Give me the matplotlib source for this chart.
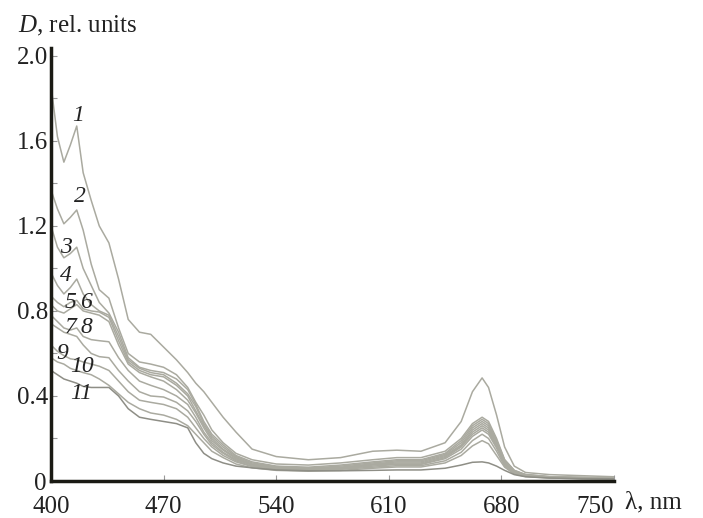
import numpy as np
import matplotlib
matplotlib.use("Agg")
import matplotlib.pyplot as plt
import matplotlib.transforms as mtransforms

plt.rcParams['font.family'] = ['Liberation Serif', 'DejaVu Serif']
plt.rcParams['mathtext.fontset'] = 'custom'
plt.rcParams['mathtext.it'] = 'Liberation Serif:italic'
plt.rcParams['mathtext.rm'] = 'Liberation Serif'

# Длины волн, нм
wl = [400, 404, 408, 412, 416, 420, 425, 430, 436, 442, 448, 455, 462, 470, 478,
      485, 490, 495, 500, 507, 515, 525, 540, 560, 580, 600, 615, 630, 645, 655,
      662, 668, 672, 677, 682, 688, 695, 710, 730, 750]

# Оптическая плотность, отн. ед. (кривые 1-11)
d1 = [1.86, 1.62, 1.50, 1.58, 1.67, 1.45, 1.32, 1.20, 1.12, 0.95, 0.76, 0.70, 0.69, 0.63, 0.57,
      0.51, 0.46, 0.42, 0.37, 0.30, 0.23, 0.15, 0.115, 0.10, 0.11, 0.14, 0.145, 0.14, 0.18, 0.28,
      0.42, 0.485, 0.44, 0.31, 0.16, 0.07, 0.04, 0.03, 0.025, 0.02]
d2 = [1.37, 1.28, 1.21, 1.24, 1.275, 1.18, 1.02, 0.90, 0.86, 0.72, 0.60, 0.56, 0.55, 0.535, 0.50,
      0.44, 0.37, 0.31, 0.24, 0.18, 0.13, 0.10, 0.08, 0.075, 0.085, 0.10, 0.11, 0.11, 0.14, 0.20,
      0.27, 0.30, 0.28, 0.20, 0.10, 0.05, 0.03, 0.02, 0.018, 0.015]
d3 = [1.20, 1.10, 1.05, 1.07, 1.10, 1.00, 0.92, 0.84, 0.79, 0.70, 0.58, 0.535, 0.52, 0.51, 0.48,
      0.43, 0.36, 0.28, 0.22, 0.17, 0.12, 0.09, 0.07, 0.065, 0.075, 0.09, 0.10, 0.10, 0.13, 0.19,
      0.26, 0.29, 0.27, 0.19, 0.10, 0.05, 0.03, 0.02, 0.016, 0.014]
d4 = [0.98, 0.92, 0.88, 0.91, 0.95, 0.88, 0.83, 0.80, 0.78, 0.68, 0.57, 0.53, 0.51, 0.50, 0.46,
      0.41, 0.35, 0.27, 0.21, 0.16, 0.115, 0.085, 0.068, 0.06, 0.07, 0.085, 0.095, 0.095, 0.125, 0.18,
      0.25, 0.28, 0.26, 0.18, 0.09, 0.045, 0.03, 0.02, 0.015, 0.013]
d5 = [0.87, 0.84, 0.82, 0.84, 0.85, 0.81, 0.80, 0.795, 0.77, 0.66, 0.56, 0.52, 0.50, 0.49, 0.45,
      0.40, 0.33, 0.26, 0.20, 0.15, 0.11, 0.08, 0.065, 0.06, 0.065, 0.08, 0.09, 0.09, 0.12, 0.17,
      0.24, 0.27, 0.25, 0.17, 0.09, 0.045, 0.028, 0.018, 0.014, 0.012]
d6 = [0.83, 0.80, 0.79, 0.81, 0.83, 0.80, 0.79, 0.78, 0.75, 0.64, 0.55, 0.51, 0.49, 0.47, 0.43,
      0.38, 0.32, 0.25, 0.19, 0.145, 0.105, 0.078, 0.062, 0.058, 0.062, 0.078, 0.085, 0.085, 0.115, 0.165,
      0.23, 0.26, 0.24, 0.165, 0.085, 0.042, 0.027, 0.018, 0.014, 0.012]
d7 = [0.78, 0.75, 0.72, 0.71, 0.72, 0.68, 0.665, 0.66, 0.655, 0.58, 0.52, 0.47, 0.45, 0.43, 0.40,
      0.36, 0.30, 0.23, 0.18, 0.135, 0.10, 0.075, 0.06, 0.055, 0.06, 0.075, 0.08, 0.08, 0.11, 0.16,
      0.22, 0.25, 0.23, 0.16, 0.08, 0.04, 0.026, 0.017, 0.013, 0.011]
d8 = [0.74, 0.72, 0.70, 0.69, 0.68, 0.64, 0.60, 0.585, 0.58, 0.52, 0.47, 0.42, 0.40, 0.395, 0.37,
      0.33, 0.28, 0.22, 0.17, 0.13, 0.095, 0.07, 0.058, 0.053, 0.058, 0.07, 0.078, 0.078, 0.105, 0.15,
      0.21, 0.24, 0.22, 0.155, 0.078, 0.04, 0.025, 0.016, 0.012, 0.01]
d9 = [0.64, 0.61, 0.59, 0.575, 0.57, 0.56, 0.55, 0.54, 0.52, 0.47, 0.42, 0.38, 0.37, 0.36, 0.34,
      0.30, 0.25, 0.20, 0.16, 0.12, 0.09, 0.068, 0.055, 0.05, 0.055, 0.065, 0.072, 0.072, 0.095, 0.135,
      0.19, 0.22, 0.20, 0.14, 0.07, 0.036, 0.023, 0.015, 0.012, 0.01]
d10 = [0.58, 0.56, 0.55, 0.53, 0.52, 0.51, 0.50, 0.48, 0.45, 0.41, 0.37, 0.34, 0.32, 0.31, 0.29,
       0.26, 0.22, 0.18, 0.14, 0.11, 0.08, 0.062, 0.05, 0.046, 0.05, 0.06, 0.066, 0.066, 0.085, 0.12,
       0.165, 0.19, 0.175, 0.12, 0.065, 0.033, 0.021, 0.014, 0.011, 0.01]
d11 = [0.52, 0.50, 0.48, 0.47, 0.46, 0.445, 0.44, 0.44, 0.44, 0.40, 0.34, 0.30, 0.29, 0.28, 0.27,
       0.25, 0.18, 0.13, 0.105, 0.085, 0.07, 0.062, 0.052, 0.048, 0.048, 0.05, 0.052, 0.052, 0.06, 0.075,
       0.088, 0.09, 0.085, 0.07, 0.05, 0.03, 0.02, 0.014, 0.011, 0.01]

curves = [d1, d2, d3, d4, d5, d6, d7, d8, d9, d10, d11]

# Подписи кривых
names = ['1', '2', '3', '4', '5', '6', '7', '8', '9', '10', '11']
label_x = [417, 418, 409, 409, 412, 422, 412, 422, 407, 419, 419]
label_y = [1.72, 1.34, 1.10, 0.965, 0.84, 0.84, 0.72, 0.72, 0.60, 0.54, 0.41]

fig = plt.figure(figsize=(7.03, 5.18), dpi=100)
ax = fig.add_axes([51 / 703, 37 / 518, 563 / 703, 433 / 518])

for i, d in enumerate(curves):
    col = '#8e8e86' if i == 10 else '#aaaaa0'
    ax.plot(wl, d, color=col, lw=1.1)

for n, x, y in zip(names, label_x, label_y):
    ax.text(x, y, n, fontsize=17, style='italic', ha='center', va='center', color='#222222')

ax.set_xlim(400, 750)
ax.set_ylim(0, 2.037)

ax.set_xticks([400, 470, 540, 610, 680, 750])
ax.set_xticklabels(['400', '470', '540', '610', '680', '750'])
ax.set_yticks([0, 0.4, 0.8, 1.2, 1.6, 2.0])
ax.set_yticklabels(['0', '0.4', '0.8', '1.2', '1.6', '2.0'])
ax.set_yticks(np.arange(0.2, 2.0, 0.4), minor=True)

ax.tick_params(axis='both', which='both', direction='in', length=4, width=0.8,
               color='#999999', labelsize=18, labelcolor='#222222', pad=2)
ax.tick_params(axis='x', pad=11)
ax.get_xticklabels()[-1].set_horizontalalignment('right')

# "0" по оси y чуть ниже линии оси
zero_lab = ax.get_yticklabels()[0]
zero_lab.set_transform(zero_lab.get_transform() +
                       mtransforms.ScaledTranslation(-2 / 100, -1 / 100, fig.dpi_scale_trans))

for s in ['top', 'right']:
    ax.spines[s].set_visible(False)
for s in ['left', 'bottom']:
    ax.spines[s].set_linewidth(2.5)
    ax.spines[s].set_color('#1a1a14')

fig.text(18 / 703, 1 - 26 / 518, '$D$, rel. units', fontsize=18, va='center', ha='left',
         color='#222222')
fig.text(625 / 703, 1 - 502 / 518, 'λ, nm', fontsize=18, va='center', ha='left',
         color='#222222')

fig.savefig('out.png', dpi=100)
